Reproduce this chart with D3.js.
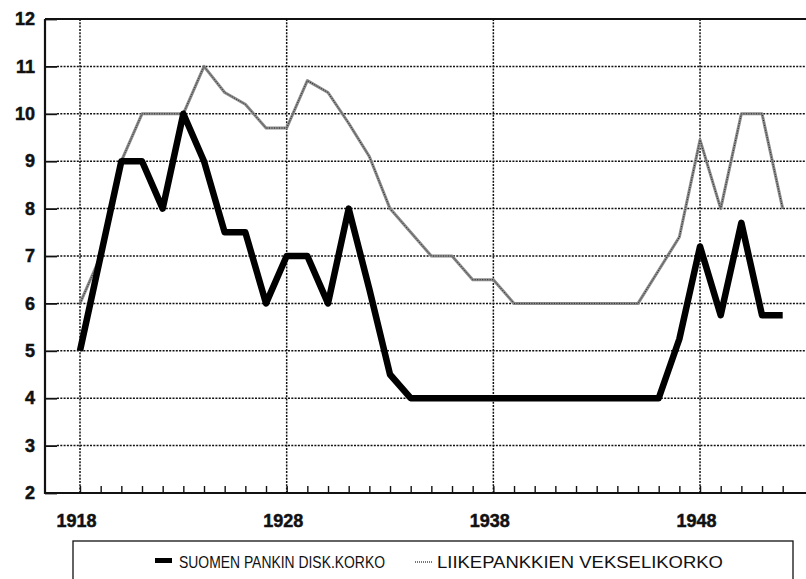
<!DOCTYPE html>
<html>
<head>
<meta charset="utf-8">
<script src="https://cdn.jsdelivr.net/npm/d3@7"></script>
<style>
  body { margin: 0; background: #fff; }
  svg { display: block; }
</style>
</head>
<body>
<svg id="chart"></svg>
<script>
const years = [1918, 1919, 1920, 1921, 1922, 1923, 1924, 1925, 1926, 1927,
               1928, 1929, 1930, 1931, 1932, 1933, 1934, 1935, 1936, 1937,
               1938, 1939, 1940, 1941, 1942, 1943, 1944, 1945, 1946, 1947,
               1948, 1949, 1950, 1951, 1952];
// Suomen Pankin diskonttokorko
const discountRate = [5, 7, 9, 9, 8, 10, 9, 7.5, 7.5, 6,
                      7, 7, 6, 8, 6.3, 4.5, 4, 4, 4, 4,
                      4, 4, 4, 4, 4, 4, 4, 4, 4, 5.25,
                      7.2, 5.75, 7.7, 5.75, 5.75];
// Liikepankkien vekselikorko
const billRate = [6, 7, 9, 10, 10, 10, 11, 10.45, 10.2, 9.7,
                  9.7, 10.7, 10.45, 9.8, 9.1, 8, 7.5, 7, 7, 6.5,
                  6.5, 6, 6, 6, 6, 6, 6, 6, 6.7, 7.4,
                  9.45, 8, 10, 10, 8];
const yTicks = [2, 3, 4, 5, 6, 7, 8, 9, 10, 11, 12];
const gridYears = [1918, 1928, 1938, 1948];
const legendLabels = ["SUOMEN PANKIN DISK.KORKO", "LIIKEPANKKIEN VEKSELIKORKO"];

const width = 806;
const height = 579;
const plot = {left: 45, top: 19, right: 806, bottom: 493};
const fontFamily = "'Liberation Sans', Arial, Helvetica, sans-serif";

const svg = d3.select("#chart")
    .attr("width", width)
    .attr("height", height)
    .attr("viewBox", [0, 0, width, height]);

const x = d3.scaleLinear().domain([1918, 1952]).range([80, 782.7]);
const y = d3.scaleLinear().domain([2, 12]).range([plot.bottom, plot.top]);

const dotted = "2,1.3";

// horizontal grid
svg.append("g")
    .selectAll("line")
    .data(yTicks.filter(d => d > 2 && d < 12))
    .join("line")
    .attr("x1", plot.left + 12)
    .attr("x2", plot.right)
    .attr("y1", d => y(d))
    .attr("y2", d => y(d))
    .attr("stroke", "#111")
    .attr("stroke-width", 1.5)
    .attr("stroke-dasharray", dotted);

// vertical grid
svg.append("g")
    .selectAll("line")
    .data(gridYears)
    .join("line")
    .attr("x1", d => x(d))
    .attr("x2", d => x(d))
    .attr("y1", plot.top)
    .attr("y2", plot.bottom)
    .attr("stroke", "#111")
    .attr("stroke-width", 1.5)
    .attr("stroke-dasharray", dotted);

const boldLabels = g => g.selectAll("text")
    .attr("fill", "#111")
    .attr("stroke", "#111")
    .attr("stroke-width", 0.5)
    .attr("font-family", fontFamily)
    .attr("font-size", 18)
    .attr("font-weight", "bold");

// y axis
svg.append("g")
    .attr("transform", `translate(${plot.left},0)`)
    .call(d3.axisLeft(y).tickValues(yTicks).tickSize(-12).tickPadding(10))
    .call(g => g.select(".domain").remove())
    .call(g => g.selectAll(".tick line").attr("stroke", "#111").attr("stroke-width", 1.8))
    .call(boldLabels);

// x axis: yearly ticks
svg.append("g")
    .attr("transform", `translate(0,${plot.bottom})`)
    .call(d3.axisBottom(x).tickValues(years).tickSize(-7).tickFormat(""))
    .call(g => g.select(".domain").remove())
    .call(g => g.selectAll(".tick line").attr("stroke", "#111").attr("stroke-width", 1.4));

// x axis labels
svg.append("g")
    .attr("transform", `translate(-4,${plot.bottom})`)
    .call(d3.axisBottom(x).tickValues(gridYears).tickSize(0).tickPadding(21).tickFormat(d3.format("d")))
    .call(g => g.select(".domain").remove())
    .call(boldLabels);

// frame lines
svg.append("line")
    .attr("x1", plot.left).attr("x2", plot.left)
    .attr("y1", plot.top).attr("y2", plot.bottom + 1)
    .attr("stroke", "#111").attr("stroke-width", 2.2);
svg.append("line")
    .attr("x1", plot.left).attr("x2", plot.right)
    .attr("y1", plot.bottom).attr("y2", plot.bottom)
    .attr("stroke", "#111").attr("stroke-width", 2.2);
svg.append("line")
    .attr("x1", plot.left).attr("x2", plot.right)
    .attr("y1", plot.top).attr("y2", plot.top)
    .attr("stroke", "#111").attr("stroke-width", 2.2);

const line = d3.line()
    .x((d, i) => x(years[i]))
    .y(d => y(d));

// bill rate: thin halftone grey
svg.append("path")
    .datum(billRate)
    .attr("d", line)
    .attr("fill", "none")
    .attr("stroke", "#8c8c8c")
    .attr("stroke-width", 3)
    .attr("stroke-linejoin", "round");
svg.append("path")
    .datum(billRate)
    .attr("d", line)
    .attr("fill", "none")
    .attr("stroke", "#222")
    .attr("stroke-width", 1)
    .attr("stroke-dasharray", "1,1.5");

// discount rate: heavy black
svg.append("path")
    .datum(discountRate)
    .attr("d", line)
    .attr("fill", "none")
    .attr("stroke", "#000")
    .attr("stroke-width", 6.5)
    .attr("stroke-linejoin", "round");

// legend
const legend = svg.append("g");
legend.append("rect")
    .attr("x", 73).attr("y", 541)
    .attr("width", 720).attr("height", 60)
    .attr("fill", "none")
    .attr("stroke", "#111")
    .attr("stroke-width", 1.3);

legend.append("rect")
    .attr("x", 155).attr("y", 558)
    .attr("width", 17).attr("height", 5)
    .attr("fill", "#000");
legend.append("line")
    .attr("x1", 415).attr("x2", 432)
    .attr("y1", 562).attr("y2", 562)
    .attr("stroke", "#777")
    .attr("stroke-width", 2)
    .attr("stroke-dasharray", "1,1");

legend.selectAll("text")
    .data(legendLabels)
    .join("text")
    .attr("x", (d, i) => i === 0 ? 179 : 437)
    .attr("y", 568)
    .attr("textLength", (d, i) => i === 0 ? 206 : 286)
    .attr("lengthAdjust", "spacingAndGlyphs")
    .attr("fill", "#111")
    .attr("font-family", fontFamily)
    .attr("font-size", 17)
    .text(d => d);
</script>
</body>
</html>
